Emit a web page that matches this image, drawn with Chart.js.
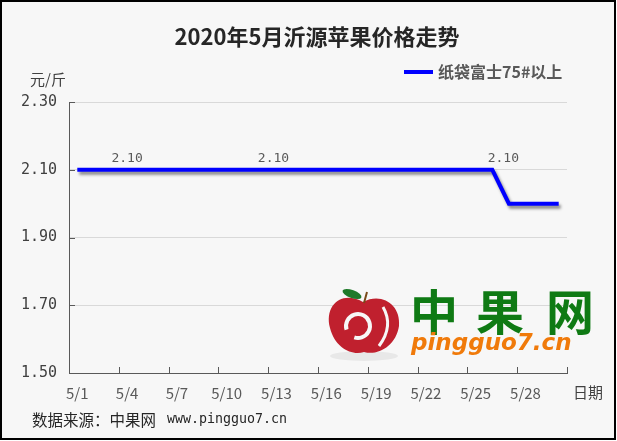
<!DOCTYPE html>
<html>
<head>
<meta charset="utf-8">
<script src="https://cdn.jsdelivr.net/npm/chart.js@4"></script>
<style>
  html, body { margin: 0; padding: 0; background: #fff; }
  #wrap { width: 617px; height: 441px; }
</style>
</head>
<body>
<div id="wrap"><canvas id="chart" width="617" height="441"></canvas></div>
<script>
// 2020年5月 沂源 纸袋富士75#以上 日价格 (元/斤)
const days = ['5/1','5/2','5/3','5/4','5/5','5/6','5/7','5/8','5/9','5/10',
  '5/11','5/12','5/13','5/14','5/15','5/16','5/17','5/18','5/19','5/20',
  '5/21','5/22','5/23','5/24','5/25','5/26','5/27','5/28','5/29','5/30']
const prices = [2.10,2.10,2.10,2.10,2.10,2.10,2.10,2.10,2.10,2.10,
  2.10,2.10,2.10,2.10,2.10,2.10,2.10,2.10,2.10,2.10,
  2.10,2.10,2.10,2.10,2.10,2.10,2.00,2.00,2.00,2.00]
const labelDays = ['5/4','5/13','5/26']
const yTicks = [1.50, 1.70, 1.90, 2.10, 2.30]
const seriesName = '纸袋富士75#以上'

const CJK = '"Noto Sans CJK SC", "Noto Sans", sans-serif'
const MONO = '"DejaVu Sans Mono", "Liberation Mono", monospace'

const Frame = {
  id: 'frame',
  beforeDraw(chart){
    const ctx = chart.ctx
    ctx.save()
    ctx.fillStyle = '#ffffff'
    ctx.fillRect(0, 0, chart.width, chart.height)
    ctx.fillStyle = '#f7f7f7'
    ctx.fillRect(1, 1, 614, 438)
    ctx.strokeStyle = '#000000'
    ctx.lineWidth = 2
    ctx.strokeRect(1, 1, 614, 438)
    ctx.restore()
  }
}

const Shadow = {
  id: 'shadow',
  beforeDatasetsDraw(chart){
    const ctx = chart.ctx
    ctx.save()
    ctx.shadowColor = 'rgba(0,0,0,0.45)'
    ctx.shadowOffsetX = 2
    ctx.shadowOffsetY = 3
    ctx.shadowBlur = 3
  },
  afterDatasetsDraw(chart){
    chart.ctx.restore()
  }
}

const Logo = {
  id: 'logo',
  beforeDatasetsDraw(chart){
    const ctx = chart.ctx
    ctx.save()
    // apple
    ctx.fillStyle = 'rgba(0,0,0,0.06)'
    ctx.beginPath()
    ctx.ellipse(364, 356, 34, 5, 0, 0, Math.PI * 2)
    ctx.fill()
    ctx.fillStyle = '#c0202e'
    ctx.beginPath()
    ctx.moveTo(363, 302)
    ctx.bezierCurveTo(342, 290, 324, 305, 330, 328)
    ctx.bezierCurveTo(335, 348, 352, 356, 364, 352)
    ctx.bezierCurveTo(378, 356, 396, 346, 399, 326)
    ctx.bezierCurveTo(401, 305, 382, 292, 363, 302)
    ctx.fill()
    ctx.strokeStyle = '#f7f7f7'
    ctx.lineWidth = 4
    ctx.beginPath()
    ctx.arc(358, 326, 12, Math.PI * 0.9, Math.PI * 2.6)
    ctx.stroke()
    ctx.lineWidth = 3
    ctx.beginPath()
    ctx.moveTo(383, 307)
    ctx.quadraticCurveTo(394, 326, 379, 346)
    ctx.stroke()
    ctx.fillStyle = '#1f7a2a'
    ctx.beginPath()
    ctx.ellipse(352, 294, 10, 4, 0.35, 0, Math.PI * 2)
    ctx.fill()
    ctx.strokeStyle = '#7a4a1a'
    ctx.lineWidth = 2
    ctx.beginPath()
    ctx.moveTo(364, 303)
    ctx.lineTo(367, 292)
    ctx.stroke()
    // text
    ctx.fillStyle = '#0f7a14'
    ctx.font = 'bold 48px ' + CJK
    ctx.textBaseline = 'middle'
    ctx.textAlign = 'center'
    ctx.fillText('中', 434, 312)
    ctx.fillText('果', 500, 312)
    ctx.fillText('网', 570, 312)
    ctx.fillStyle = '#f07a0a'
    ctx.font = 'italic bold 23px "DejaVu Sans", sans-serif'
    ctx.textAlign = 'left'
    ctx.fillText('pingguo7.cn', 411, 344)
    ctx.restore()
  }
}

const Texts = {
  id: 'texts',
  afterDraw(chart){
    const ctx = chart.ctx
    const x = chart.scales.x, y = chart.scales.y
    ctx.save()
    // inward tick marks
    ctx.strokeStyle = '#595959'
    ctx.lineWidth = 1
    const half = (x.getPixelForValue(1) - x.getPixelForValue(0)) / 2
    ctx.beginPath()
    for (let i = 0; i <= days.length; i += 3) {
      const px = Math.round(x.getPixelForValue(Math.min(i, days.length - 1)) + (i === days.length ? half : -half)) + 0.5
      ctx.moveTo(px, y.bottom)
      ctx.lineTo(px, y.bottom - 6)
    }
    yTicks.forEach(v => {
      const py = Math.round(y.getPixelForValue(v)) + 0.5
      ctx.moveTo(x.left, py)
      ctx.lineTo(x.left + 6, py)
    })
    ctx.stroke()

    // data labels
    ctx.fillStyle = '#595959'
    ctx.font = '13px ' + MONO
    ctx.textAlign = 'center'
    ctx.textBaseline = 'middle'
    const shift = [0, -3, 11]
    labelDays.forEach((d, k) => {
      const i = days.indexOf(d)
      ctx.fillText(prices[i].toFixed(2), x.getPixelForValue(i) + shift[k], y.getPixelForValue(prices[i]) - 11)
    })

    // title
    ctx.fillStyle = '#262626'
    ctx.font = 'bold 22px ' + CJK
    ctx.fillText('2020年5月沂源苹果价格走势', 317, 37)

    // legend
    ctx.strokeStyle = '#0000ff'
    ctx.lineWidth = 4
    ctx.beginPath()
    ctx.moveTo(404, 72)
    ctx.lineTo(433, 72)
    ctx.stroke()
    ctx.fillStyle = '#595959'
    ctx.font = 'bold 16px ' + CJK
    ctx.textAlign = 'left'
    ctx.fillText(seriesName, 438, 72)

    // axis units
    ctx.fillStyle = '#404040'
    ctx.font = '15px ' + CJK
    ctx.fillText('元/斤', 30, 79)
    ctx.fillText('日期', 573, 392)

    // footer
    ctx.fillStyle = '#262626'
    ctx.font = '15.5px ' + CJK
    ctx.fillText('数据来源：中果网', 32, 420)
    ctx.font = '13.3px ' + MONO
    ctx.fillText('www.pingguo7.cn', 167, 420)
    ctx.restore()
  }
}

new Chart(document.getElementById('chart'), {
  type: 'line',
  data: {
    labels: days,
    datasets: [{
      label: seriesName,
      data: prices,
      borderColor: '#0000ff',
      backgroundColor: '#0000ff',
      borderWidth: 4,
      pointRadius: 0,
      tension: 0,
      fill: false
    }]
  },
  options: {
    responsive: false,
    animation: false,
    layout: { padding: { left: 0, top: 102, right: 50, bottom: 38 } },
    plugins: {
      legend: { display: false },
      title: { display: false },
      tooltip: { enabled: false }
    },
    scales: {
      x: {
        type: 'category',
        offset: true,
        afterFit(scale){ scale.height = 30 },
        grid: { display: false, drawTicks: false },
        border: { display: true, color: '#595959', width: 1 },
        ticks: {
          autoSkip: false,
          maxRotation: 0,
          padding: 11,
          color: '#595959',
          font: { family: CJK, size: 15 },
          callback: (v, i) => i % 3 === 0 ? days[i] : ''
        }
      },
      y: {
        min: 1.5,
        max: 2.3,
        afterFit(scale){ scale.width = 69 },
        afterBuildTicks(scale){ scale.ticks = yTicks.map(v => ({ value: v })) },
        grid: { color: '#d9d9d9', drawTicks: false },
        border: { display: true, color: '#595959', width: 1 },
        ticks: {
          padding: 12,
          color: '#404040',
          font: { family: MONO, size: 15 },
          callback: v => Number(v).toFixed(2)
        }
      }
    }
  },
  plugins: [Frame, Logo, Shadow, Texts]
})
</script>
</body>
</html>
